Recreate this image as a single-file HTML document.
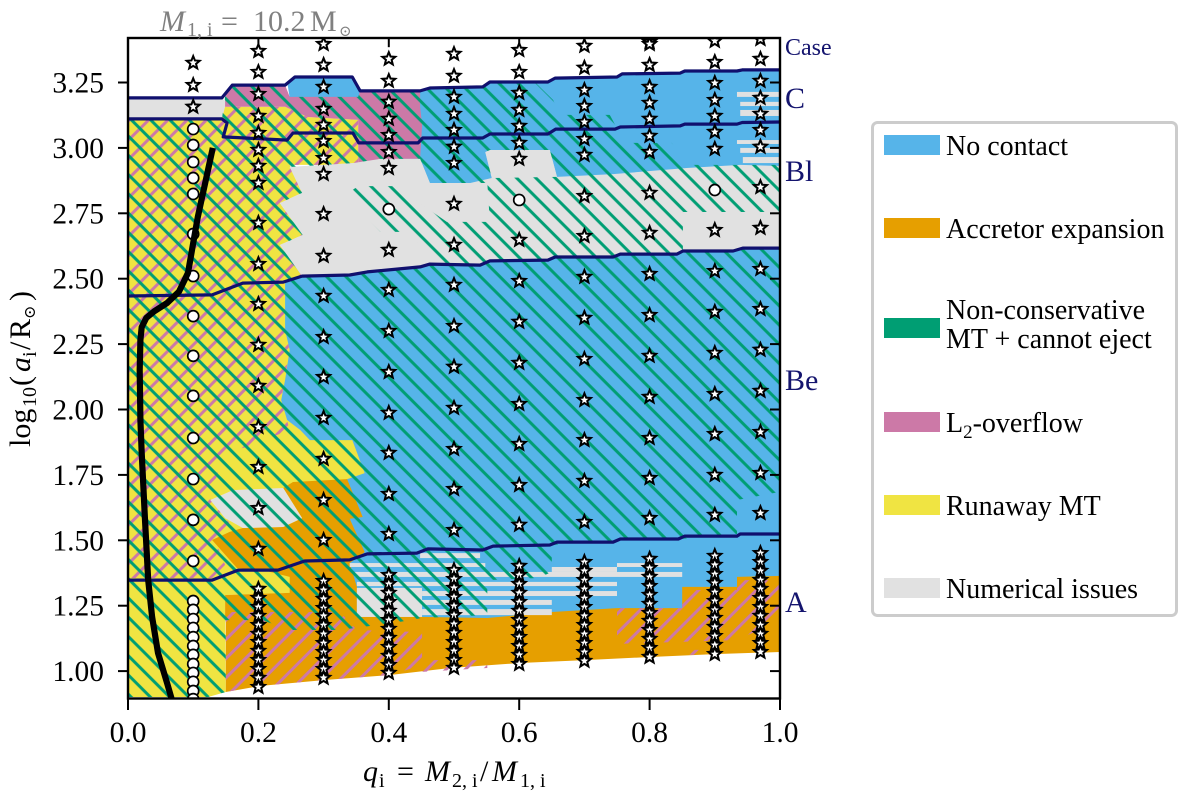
<!DOCTYPE html>
<html lang="en">
<head>
<meta charset="utf-8">
<title>Binary mass transfer outcomes</title>
<style>
  html, body { margin: 0; padding: 0; background: #fff; }
  svg { display: block; }
  text { font-family: "Liberation Serif", "DejaVu Serif", serif; fill: #000; }
  .navy { fill: #14146e; }
  .gray-title, .gray-title tspan { fill: #808080; }
</style>
</head>
<body>
<svg id="chart" xmlns="http://www.w3.org/2000/svg" width="1200" height="800" viewBox="0 0 1200 800">
  <defs>
    <clipPath id="plot-clip"><rect x="128" y="38" width="652" height="660.5"/></clipPath>
    <pattern id="green-hatch" patternUnits="userSpaceOnUse" width="13.61" height="13.61" patternTransform="rotate(45)">
      <rect x="0" y="3.99" width="13.61" height="3" fill="#009E73"/>
    </pattern>
    <pattern id="pink-hatch" patternUnits="userSpaceOnUse" width="13.61" height="13.61" patternTransform="rotate(-45) translate(0,6.23)">
      <rect x="0" y="5.3" width="13.61" height="3" fill="#CC79A7"/>
    </pattern>
  </defs>

  <g id="plot-layer" clip-path="url(#plot-clip)"></g>
  <rect x="128" y="38" width="652" height="660.5" fill="none" stroke="#000" stroke-width="2.4"/>
  <g id="axis-layer"></g>

  <text class="gray-title" y="31" font-size="30"><tspan x="160" font-style="italic">M</tspan><tspan x="187" y="36" font-size="20">1, i</tspan><tspan x="221" y="31">=</tspan><tspan x="253">10.2</tspan><tspan x="310">M</tspan><tspan x="339" y="36" font-size="15">⊙</tspan></text>

  <text y="781" font-size="30"><tspan x="363" font-style="italic">q</tspan><tspan x="379" y="787" font-size="20">i</tspan><tspan x="397" y="781">=</tspan><tspan x="425" font-style="italic">M</tspan><tspan x="452" y="787" font-size="20">2, i</tspan><tspan x="480" y="781">/</tspan><tspan x="492" font-style="italic">M</tspan><tspan x="520" y="787" font-size="20">1, i</tspan></text>

  <text transform="translate(30,447) rotate(-90)" font-size="30"><tspan x="0" y="0">log</tspan><tspan x="40" y="6" font-size="20">10</tspan><tspan x="61" y="0">(</tspan><tspan x="75" font-style="italic">a</tspan><tspan x="90" y="6" font-size="20">i</tspan><tspan x="97" y="0">/</tspan><tspan x="108">R</tspan><tspan x="128" y="5" font-size="16">⊙</tspan><tspan x="146" y="0">)</tspan></text>

  <text class="navy" x="785" y="55" font-size="24">Case</text>
  <text class="navy" x="785" y="108" font-size="30">C</text>
  <text class="navy" x="785" y="181" font-size="30">Bl</text>
  <text class="navy" x="785" y="390" font-size="30">Be</text>
  <text class="navy" x="785" y="612" font-size="30">A</text>

  <g>
    <rect x="872.5" y="122.5" width="304" height="493" rx="5" fill="#fff" stroke="#cccccc" stroke-width="3"/>
    <g>
      <rect x="884" y="135" width="56" height="20" fill="#56B4E9"/>
      <text x="946" y="155" font-size="28">No contact</text>
    </g>
    <g>
      <rect x="884" y="218" width="56" height="20" fill="#E69F00"/>
      <text x="946" y="238" font-size="28">Accretor expansion</text>
    </g>
    <g>
      <rect x="884" y="318" width="56" height="20" fill="#009E73"/>
      <text x="946" y="319" font-size="28">Non-conservative</text>
      <text x="946" y="348" font-size="28">MT + cannot eject</text>
    </g>
    <g>
      <rect x="884" y="412" width="56" height="20" fill="#CC79A7"/>
      <text x="946" y="432" font-size="28">L<tspan font-size="19" dy="6">2</tspan><tspan dy="-6">-overflow</tspan></text>
    </g>
    <g>
      <rect x="884" y="495" width="56" height="20" fill="#F0E442"/>
      <text x="946" y="515" font-size="28">Runaway MT</text>
    </g>
    <g>
      <rect x="884" y="578" width="56" height="20" fill="#E1E1E1"/>
      <text x="946" y="598" font-size="28">Numerical issues</text>
    </g>
  </g>
</svg>

<script>
// Axis ticks
const xTickValues = [0.0, 0.2, 0.4, 0.6, 0.8, 1.0];
const yTickValues = [3.25, 3.00, 2.75, 2.50, 2.25, 2.00, 1.75, 1.50, 1.25, 1.00];

// Outcome regions, vertices as [mass ratio q, log10 separation]
const noContactRegion = [[.448,3.218],[.463,3.229],[.544,3.229],[.555,3.252],[.644,3.252],[.655,3.267],[.750,3.271],[.758,3.283],[.847,3.286],[.854,3.294],[.934,3.294],[.942,3.298],[1,3.298],[1,1.195],[.264,1.195],[.233,2.036],[.233,2.495],[.417,2.954]];
const noContactPatch = [[.245,3.240],[.256,3.271],[.344,3.271],[.356,3.218],[.353,3.191],[.248,3.191]];
const numericalBand = [[0,3.191],[.144,3.191],[.158,3.157],[.144,3.111],[0,3.111]];
const runawayRegion = [[0,3.111],[.144,3.111],[.149,3.157],[.241,3.157],[.275,3.118],[.353,3.107],[.353,2.935],[.248,2.935],[.267,2.828],[.233,2.789],[.268,2.667],[.233,2.629],[.267,2.510],[.241,2.487],[.241,2.304],[.248,2.228],[.241,2.113],[.235,2.036],[.244,1.960],[.264,1.922],[.279,1.883],[.344,1.883],[.363,1.757],[.333,1.731],[.264,1.578],[.253,1.299],[.149,1.291],[.150,.920],[.123,.901],[0,.901]];
const numericalRegion = [[.248,2.927],[.345,2.942],[.387,2.958],[.448,2.958],[.463,2.866],[.525,2.866],[.558,2.885],[.548,2.984],[.555,2.992],[.647,2.992],[.658,2.889],[.744,2.900],[.857,2.923],[.939,2.935],[1,2.931],[1,2.617],[.943,2.617],[.928,2.606],[.851,2.606],[.842,2.594],[.755,2.594],[.744,2.583],[.655,2.583],[.644,2.571],[.555,2.568],[.540,2.552],[.463,2.556],[.448,2.545],[.367,2.526],[.340,2.514],[.267,2.510],[.233,2.629],[.268,2.667],[.233,2.789],[.267,2.828]];
const accretorUpper = [[.238,1.700],[.253,1.723],[.336,1.734],[.360,1.589],[.340,1.582],[.363,1.455],[.340,1.413],[.351,1.322],[.351,1.207],[.149,1.207],[.149,1.291],[.248,1.299],[.248,1.360],[.207,1.386],[.167,1.394],[.129,1.501],[.156,1.532],[.176,1.547],[.238,1.551],[.267,1.585]];
const accretorLower = [[.150,1.226],[.351,1.226],[.448,1.207],[.551,1.203],[.650,1.226],[.750,1.241],[.850,1.241],[.850,1.322],[.934,1.322],[.934,1.360],[1,1.364],[1,1.073],[.900,1.065],[.801,1.054],[.701,1.042],[.601,1.031],[.494,1.012],[.402,.985],[.302,.966],[.202,.943],[.150,.920]];
const numericalPatch = [[.126,1.654],[.161,1.692],[.238,1.700],[.267,1.585],[.238,1.551],[.176,1.547],[.149,1.585]];
const overflowRegion = [[.149,3.195],[.160,3.240],[.241,3.240],[.248,3.195],[.353,3.195],[.356,3.218],[.448,3.218],[.448,3.157],[.451,3.088],[.448,2.958],[.387,2.958],[.353,2.935],[.353,3.107],[.275,3.118],[.241,3.157],[.149,3.157]];

// Thin numerical-issue stripes: [q start, q end, log a top, log a bottom]
const numericalStripes = [
  [.340,.548,1.413,1.398],[.348,.850,1.379,1.360],[.351,.750,1.341,1.325],[.351,.451,1.318,1.207],
  [.451,.750,1.306,1.287],[.451,.650,1.272,1.253],[.451,.650,1.237,1.214],[.650,.750,1.398,1.379],
  [.750,.850,1.413,1.398],[.448,.540,1.451,1.432],[.934,1,3.214,3.195],[.939,1,3.176,3.160],
  [.939,1,3.145,3.122],[.934,1,3.030,3.015],[.939,1,3.000,2.981],[.943,1,2.965,2.942]
];

// Hatched overlays
const overflowHatchUpper = [[0,3.111],[.144,3.111],[.149,3.157],[.241,3.157],[.275,3.118],[.353,3.107],[.353,2.935],[.248,2.935],[.267,2.828],[.233,2.789],[.268,2.667],[.233,2.629],[.267,2.510],[.241,2.487],[.241,2.304],[.248,2.228],[.235,2.036],[.248,1.922],[.183,1.857],[.146,1.834],[.126,1.654],[.161,1.551],[.133,1.501],[.149,1.406],[.129,1.356],[0,1.356]];
const overflowHatchLowerLeft = [[.150,1.226],[.325,1.226],[.351,1.157],[.451,1.149],[.451,1.023],[.402,.985],[.302,.966],[.202,.943],[.150,.920]];
const overflowHatchStrip = [[.451,1.042],[.551,1.042],[.551,1.012],[.451,.997]];
const overflowHatchRight = [[.750,1.241],[.850,1.241],[.850,1.310],[.934,1.310],[.934,1.348],[1,1.348],[1,1.195],[.934,1.119],[.750,1.104]];
const overflowHatchRightStrip = [[.850,1.081],[.919,1.081],[.919,1.062],[.850,1.062]];
const cannotEjectHatch = [[0,3.111],[.144,3.111],[.149,3.195],[.160,3.240],[.241,3.240],[.248,3.195],[.353,3.195],[.356,3.218],[.448,3.218],[.463,3.229],[.544,3.229],[.555,3.252],[.624,3.252],[.652,3.183],[.663,3.126],[.739,3.126],[.762,3.019],[.834,3.019],[.859,2.935],[1,2.935],[1,1.685],[.934,1.654],[.934,1.524],[.847,1.505],[.750,1.501],[.650,1.482],[.650,1.379],[.629,1.356],[.551,1.348],[.551,1.214],[.451,1.203],[.417,1.188],[.325,1.157],[.248,1.157],[.206,1.195],[.150,1.195],[.150,.920],[.123,.901],[0,.901]];

// Un-hatched numerical patches painted over the hatching
const plainNumericalLeft = [[.248,2.927],[.345,2.942],[.387,2.958],[.448,2.958],[.463,2.866],[.551,2.866],[.555,2.717],[.489,2.717],[.410,2.854],[.353,2.854],[.333,2.820],[.387,2.679],[.433,2.679],[.452,2.610],[.466,2.556],[.448,2.545],[.367,2.526],[.340,2.514],[.267,2.510],[.233,2.629],[.268,2.667],[.233,2.789],[.267,2.828]];
const plainNumericalBlock = [[.558,2.885],[.548,2.984],[.555,2.992],[.647,2.992],[.658,2.889]];
const plainNumericalRight = [[.851,2.755],[1,2.755],[1,2.617],[.943,2.617],[.928,2.606],[.851,2.606]];

// Case boundary lines
const caseBoundaryC = [[0,3.191],[.144,3.191],[.160,3.240],[.241,3.240],[.256,3.271],[.344,3.271],[.356,3.218],[.448,3.218],[.463,3.229],[.544,3.233],[.555,3.252],[.644,3.252],[.655,3.267],[.750,3.271],[.758,3.283],[.847,3.286],[.854,3.294],[.934,3.294],[.942,3.298],[1,3.298]];
const caseBoundaryBl = [[0,3.111],[.144,3.111],[.152,3.095],[.146,3.042],[.244,3.030],[.253,3.057],[.345,3.057],[.354,3.019],[.445,3.019],[.452,3.038],[.544,3.038],[.555,3.053],[.644,3.053],[.656,3.072],[.747,3.072],[.755,3.080],[.847,3.084],[.854,3.091],[.934,3.091],[.942,3.097],[1,3.099]];
const caseBoundaryBe = [[0,2.434],[.129,2.438],[.176,2.483],[.238,2.487],[.267,2.510],[.340,2.514],[.367,2.526],[.448,2.545],[.463,2.556],[.540,2.552],[.555,2.568],[.644,2.571],[.655,2.583],[.744,2.583],[.755,2.594],[.842,2.594],[.851,2.606],[.928,2.606],[.943,2.617],[1,2.617]];
const caseBoundaryA = [[0,1.348],[.129,1.348],[.169,1.386],[.230,1.386],[.271,1.421],[.340,1.425],[.367,1.448],[.443,1.451],[.460,1.467],[.544,1.463],[.560,1.478],[.647,1.482],[.658,1.493],[.744,1.493],[.755,1.505],[.844,1.505],[.854,1.516],[.934,1.516],[.939,1.524],[1,1.524]];

// Thick black track curve
const trackCurve = [[.130,3.000],[.126,2.954],[.121,2.896],[.115,2.828],[.107,2.736],[.100,2.636],[.092,2.522],[.078,2.450],[.060,2.407],[.040,2.375],[.028,2.350],[.021,2.315],[.019,2.265],[.018,2.151],[.019,1.960],[.021,1.834],[.026,1.578],[.031,1.348],[.037,1.207],[.046,1.069],[.060,.954],[.067,.893]];

// Simulated models: star markers, one list of log a per mass ratio
const starQ01 = [3.325,3.240,3.157];
const starQ02 = [3.370,3.290,3.206,3.122,3.057,2.992,2.931,2.866,2.713,2.556,2.403,2.247,2.090,1.933,1.780,1.623,1.467,1.314,1.279,1.245,1.211,1.176,1.142,1.111,1.077,1.042,1.008,.974,.939];
const starQ03 = [3.397,3.317,3.233,3.149,3.088,3.026,2.961,2.900,2.747,2.587,2.434,2.277,2.124,1.968,1.811,1.654,1.501,1.344,1.310,1.276,1.241,1.211,1.176,1.142,1.107,1.073,1.042,1.008,.974];
const starQ04 = [3.340,3.256,3.176,3.111,3.049,2.984,2.923,2.610,2.457,2.300,2.143,1.987,1.834,1.677,1.524,1.367,1.333,1.299,1.264,1.230,1.195,1.161,1.127,1.092,1.058,1.023,.993];
const starQ05 = [3.359,3.275,3.195,3.130,3.068,3.004,2.942,2.786,2.629,2.476,2.319,2.163,2.006,1.849,1.696,1.539,1.386,1.352,1.318,1.283,1.249,1.214,1.180,1.146,1.111,1.077,1.042,1.012];
const starQ06 = [3.374,3.290,3.210,3.145,3.084,3.019,2.958,2.648,2.491,2.335,2.178,2.021,1.868,1.711,1.559,1.402,1.367,1.333,1.299,1.264,1.230,1.195,1.165,1.130,1.096,1.062,1.027];
const starQ07 = [3.390,3.306,3.221,3.160,3.099,3.034,2.973,2.816,2.663,2.507,2.350,2.193,2.036,1.883,1.727,1.570,1.417,1.383,1.348,1.314,1.279,1.245,1.211,1.176,1.142,1.107,1.073,1.039];
const starQ08 = [3.405,3.397,3.317,3.233,3.172,3.111,3.046,2.984,2.828,2.675,2.518,2.361,2.205,2.048,1.891,1.738,1.585,1.429,1.394,1.360,1.325,1.291,1.257,1.222,1.192,1.157,1.123,1.088,1.054];
const starQ09 = [3.409,3.328,3.248,3.183,3.122,3.061,2.996,2.686,2.529,2.373,2.216,2.059,1.906,1.750,1.597,1.440,1.406,1.371,1.337,1.302,1.268,1.234,1.203,1.169,1.134,1.100,1.065];
const starQ097 = [3.416,3.340,3.256,3.191,3.130,3.068,3.004,2.850,2.694,2.537,2.384,2.228,2.071,1.914,1.757,1.604,1.451,1.417,1.383,1.348,1.314,1.279,1.245,1.211,1.176,1.142,1.107,1.073];

// Open circle markers
const circleQ01 = [3.072,3.011,2.946,2.885,2.824,2.671,2.510,2.357,2.205,2.052,1.891,1.734,1.578,1.421,1.268,1.234,1.199,1.165,1.130,1.096,1.062,1.027,.993,.959,.924,.893];
const circleQ04 = [2.766];
const circleQ06 = [2.801];
const circleQ09 = [2.839];

// Mass ratios whose stars sit just above the frame, leaving a stub
const clippedStubQ = [0.2, 0.4, 0.6];

const NS = 'http://www.w3.org/2000/svg';
const plot = document.getElementById('plot-layer');
const axes = document.getElementById('axis-layer');

// Axis functions
function xScale(q) { return 128 + q * 652; }
function yScale(v) { return 82.5 + (3.25 - v) * 261.6; }
function toPoints(pts) { return pts.map(function (p) { return xScale(p[0]).toFixed(1) + ',' + yScale(p[1]).toFixed(1); }).join(' '); }

function drawRegion(pts, fill, name) {
  const el = document.createElementNS(NS, 'polygon');
  el.setAttribute('points', toPoints(pts));
  el.setAttribute('fill', fill);
  
  
  plot.appendChild(el);
}
function drawStripe(s) {
  const el = document.createElementNS(NS, 'rect');
  el.setAttribute('x', xScale(s[0]));
  el.setAttribute('y', yScale(s[2]));
  el.setAttribute('width', xScale(s[1]) - xScale(s[0]));
  el.setAttribute('height', yScale(s[3]) - yScale(s[2]));
  el.setAttribute('fill', GRAY);
  
  
  plot.appendChild(el);
}
function drawLine(pts, stroke, width, name) {
  const el = document.createElementNS(NS, 'polyline');
  el.setAttribute('points', toPoints(pts));
  el.setAttribute('fill', 'none');
  el.setAttribute('stroke', stroke);
  el.setAttribute('stroke-width', width);
  el.setAttribute('stroke-linejoin', 'round');
  
  
  plot.appendChild(el);
}
function drawStar(q, v) {
  const cx = xScale(q), cy = yScale(v);
  let d = '';
  for (let i = 0; i < 10; i++) {
    const r = i % 2 ? 3 : 6.8;
    const a = -Math.PI / 2 + i * Math.PI / 5;
    d += (i ? 'L' : 'M') + (cx + r * Math.cos(a)).toFixed(2) + ' ' + (cy + r * Math.sin(a)).toFixed(2);
  }
  const el = document.createElementNS(NS, 'path');
  el.setAttribute('d', d + 'Z');
  el.setAttribute('fill', '#fff');
  el.setAttribute('stroke', '#000');
  el.setAttribute('stroke-width', '2');
  el.setAttribute('stroke-linejoin', 'miter');
  
  
  plot.appendChild(el);
}
function drawCircle(q, v) {
  const el = document.createElementNS(NS, 'circle');
  el.setAttribute('cx', xScale(q));
  el.setAttribute('cy', yScale(v));
  el.setAttribute('r', '5.5');
  el.setAttribute('fill', '#fff');
  el.setAttribute('stroke', '#000');
  el.setAttribute('stroke-width', '1.7');
  
  
  plot.appendChild(el);
}

const BLUE = '#56B4E9', ORANGE = '#E69F00', PINK = '#CC79A7', YELLOW = '#F0E442', GRAY = '#E1E1E1', NAVY = '#10106e';

// Solid fills
drawRegion(noContactRegion, BLUE, 'no-contact-region');
drawRegion(noContactPatch, BLUE, 'no-contact-patch');
drawRegion(numericalBand, GRAY, 'numerical-issues-band');
drawRegion(runawayRegion, YELLOW, 'runaway-mt-region');
drawRegion(numericalRegion, GRAY, 'numerical-issues-region');
drawRegion(accretorUpper, ORANGE, 'accretor-expansion-upper');
drawRegion(accretorLower, ORANGE, 'accretor-expansion-lower');
drawRegion(numericalPatch, GRAY, 'numerical-issues-patch');
drawRegion(overflowRegion, PINK, 'l2-overflow-region');
numericalStripes.forEach(drawStripe);

// Hatching
drawRegion(overflowHatchUpper, 'url(#pink-hatch)', 'l2-overflow-hatch-upper');
drawRegion(overflowHatchLowerLeft, 'url(#pink-hatch)', 'l2-overflow-hatch-lower');
drawRegion(overflowHatchStrip, 'url(#pink-hatch)', 'l2-overflow-hatch-strip');
drawRegion(overflowHatchRight, 'url(#pink-hatch)', 'l2-overflow-hatch-right');
drawRegion(overflowHatchRightStrip, 'url(#pink-hatch)', 'l2-overflow-hatch-right-strip');
drawRegion(cannotEjectHatch, 'url(#green-hatch)', 'cannot-eject-hatch');

// Plain patches
drawRegion(plainNumericalLeft, GRAY, 'numerical-issues-plain-left');
drawRegion(plainNumericalBlock, GRAY, 'numerical-issues-plain-block');
drawRegion(plainNumericalRight, GRAY, 'numerical-issues-plain-right');

// Boundaries
drawLine(caseBoundaryC, NAVY, 3.2, 'case-c-boundary');
drawLine(caseBoundaryBl, NAVY, 3.2, 'case-bl-boundary');
drawLine(caseBoundaryBe, NAVY, 3.2, 'case-be-boundary');
drawLine(caseBoundaryA, NAVY, 3.2, 'case-a-boundary');

// Markers
clippedStubQ.forEach(function (q) {
  const el = document.createElementNS(NS, 'line');
  el.setAttribute('x1', xScale(q));
  el.setAttribute('x2', xScale(q));
  el.setAttribute('y1', yScale(3.42));
  el.setAttribute('y2', yScale(3.385));
  el.setAttribute('stroke', '#000');
  el.setAttribute('stroke-width', '2');
  
  
  plot.appendChild(el);
});
starQ01.forEach(function (v) { drawStar(0.1, v); });
starQ02.forEach(function (v) { drawStar(0.2, v); });
starQ03.forEach(function (v) { drawStar(0.3, v); });
starQ04.forEach(function (v) { drawStar(0.4, v); });
starQ05.forEach(function (v) { drawStar(0.5, v); });
starQ06.forEach(function (v) { drawStar(0.6, v); });
starQ07.forEach(function (v) { drawStar(0.7, v); });
starQ08.forEach(function (v) { drawStar(0.8, v); });
starQ09.forEach(function (v) { drawStar(0.9, v); });
starQ097.forEach(function (v) { drawStar(0.97, v); });
circleQ01.forEach(function (v) { drawCircle(0.1, v); });
circleQ04.forEach(function (v) { drawCircle(0.4, v); });
circleQ06.forEach(function (v) { drawCircle(0.6, v); });
circleQ09.forEach(function (v) { drawCircle(0.9, v); });

// Track
drawLine(trackCurve, '#000', 6.2, 'stellar-track-curve');

// Axis ticks and labels
xTickValues.forEach(function (t) {
  const tick = document.createElementNS(NS, 'line');
  tick.setAttribute('x1', xScale(t));
  tick.setAttribute('x2', xScale(t));
  tick.setAttribute('y1', '699');
  tick.setAttribute('y2', '710');
  tick.setAttribute('stroke', '#000');
  tick.setAttribute('stroke-width', '2');
  
  
  axes.appendChild(tick);
  const label = document.createElementNS(NS, 'text');
  label.setAttribute('x', xScale(t));
  label.setAttribute('y', '742');
  label.setAttribute('font-size', '29.5');
  label.setAttribute('text-anchor', 'middle');
  
  
  label.textContent = t.toFixed(1);
  axes.appendChild(label);
});
yTickValues.forEach(function (t) {
  const tick = document.createElementNS(NS, 'line');
  tick.setAttribute('x1', '118');
  tick.setAttribute('x2', '128');
  tick.setAttribute('y1', yScale(t));
  tick.setAttribute('y2', yScale(t));
  tick.setAttribute('stroke', '#000');
  tick.setAttribute('stroke-width', '2');
  
  
  axes.appendChild(tick);
  const rightTick = document.createElementNS(NS, 'line');
  rightTick.setAttribute('x1', '770');
  rightTick.setAttribute('x2', '780');
  rightTick.setAttribute('y1', yScale(t));
  rightTick.setAttribute('y2', yScale(t));
  rightTick.setAttribute('stroke', '#000');
  rightTick.setAttribute('stroke-width', '2');
  
  
  axes.appendChild(rightTick);
  const label = document.createElementNS(NS, 'text');
  label.setAttribute('x', '104');
  label.setAttribute('y', yScale(t) + 10);
  label.setAttribute('font-size', '29.5');
  label.setAttribute('text-anchor', 'end');
  
  
  label.textContent = t.toFixed(2);
  axes.appendChild(label);
});
</script>
</body>
</html>
